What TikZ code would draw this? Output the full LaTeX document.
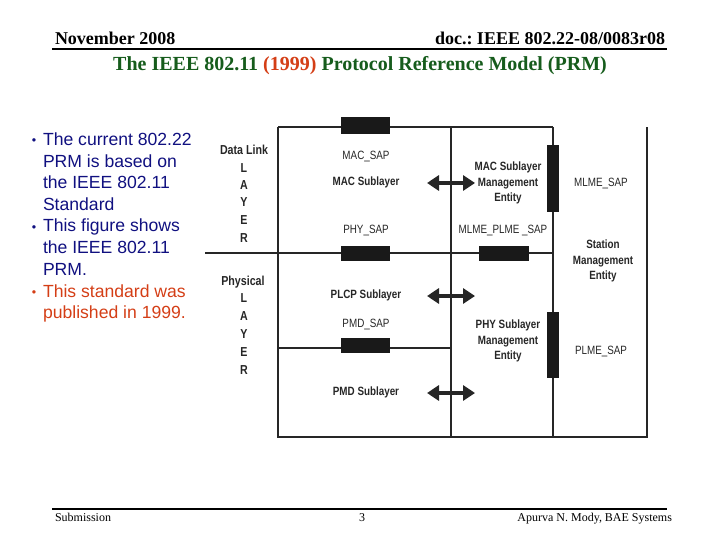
\documentclass[tikz,border=0pt]{standalone}
\usepackage{fontspec}
\setmainfont{Liberation Serif}
\newfontfamily\arialfont{Liberation Sans}
\newfontfamily\narrowfont{Liberation Sans}[FakeStretch=0.82]
\usetikzlibrary{arrows.meta, positioning}
\frenchspacing

\definecolor{titlegreen}{RGB}{22,92,28}
\definecolor{accentred}{RGB}{212,62,22}
\definecolor{bulletblue}{RGB}{16,16,128}
\definecolor{labelgray}{RGB}{38,38,38}

\begin{document}
\begin{tikzpicture}[
  x=1pt, y=-1pt,
  every node/.style={inner sep=0pt, outer sep=0pt},
  hdr/.style={font=\fontsize{18}{18}\selectfont\bfseries, anchor=base},
  foot/.style={font=\fontsize{12}{12}\selectfont, anchor=base},
  bullettxt/.style={font=\arialfont\fontsize{17.6}{17.6}\selectfont, anchor=base west, text=bulletblue},
  dot/.style={font=\arialfont\fontsize{12.5}{12.5}\selectfont, anchor=base, text=bulletblue},
  lbl/.style={font=\narrowfont\fontsize{12}{13}\selectfont, text=labelgray, align=center},
  blbl/.style={lbl, font=\narrowfont\bfseries\fontsize{12}{15.5}\selectfont},
  layer/.style={font=\narrowfont\bfseries\fontsize{13}{13}\selectfont, text=labelgray, anchor=base},
  sapbox/.style={fill=black!90, draw=none},
  frame/.style={line width=1.2pt, black!85},
  biarrow/.style={{Triangle[length=12pt,width=15pt]}-{Triangle[length=12pt,width=15pt]}, line width=3.6pt, black!85}
]
\useasboundingbox (0,0) rectangle (720,540);

% Header and footer
\node[hdr, anchor=base west] (month) at (55,45) {November 2008};
\node[hdr, anchor=base east] (docnr) at (665,45) {doc.: IEEE 802.22-08/0083r08};
\draw[line width=2.2pt] (52,49) -- (667,49);
\node[font=\fontsize{20}{20}\selectfont\bfseries, anchor=base, text=titlegreen] (title) at (360,71)
  {The IEEE 802.11 \textcolor{accentred}{(1999)} Protocol Reference Model (PRM)};
\draw[line width=2pt] (52,509) -- (667,509);
\node[foot, anchor=base west] (subm) at (55,521) {Submission};
\node[foot] (page) at (362,521) {3};
\node[foot, anchor=base east] (author) at (672,521) {Apurva N. Mody, BAE Systems};

% Bullets
\node[dot] (dot1) at (34,145) {•};
\node[dot] (dot2) at (34,231) {•};
\node[dot, text=accentred] (dot3) at (34,296) {•};
\foreach \i/\y/\t in {1/146/The current 802.22, 2/167.5/PRM is based on, 3/189/the IEEE 802.11,
    4/210.5/Standard, 5/232/This figure shows, 6/253.5/the IEEE 802.11, 7/275/PRM.}
  \node[bullettxt] (line\i) at (43,\y) {\t};
\node[bullettxt, text=accentred] (line8) at (43,297) {This standard was};
\node[bullettxt, text=accentred] (line9) at (43,318.5) {published in 1999.};

% Frame of the model
\draw[frame] (278,127) -- (553,127);
\draw[frame] (278,127) -- (278,437) -- (647,437) -- (647,127);
\draw[frame] (451,127) -- (451,437);
\draw[frame] (553,127) -- (553,437);
\draw[frame] (205,253) -- (553,253);
\draw[frame] (278,348) -- (451,348);

% Service access points
\node[sapbox, minimum width=49pt, minimum height=17pt] (macsap) at (365.5,125.5) {};
\node[sapbox, minimum width=49pt, minimum height=15pt] (physap) at (365.5,253.5) {};
\node[sapbox, minimum width=49pt, minimum height=15pt] (pmdsap) at (365.5,345.5) {};
\node[sapbox, minimum width=50pt, minimum height=15pt] (mlmeplmesap) at (504,253.5) {};
\node[sapbox, minimum width=12pt, minimum height=67pt] (mlmesap) at (553,178.5) {};
\node[sapbox, minimum width=12pt, minimum height=66pt] (plmesap) at (553,345) {};

% Layer names
\node[layer] (dlink) at (244,155) {Data Link};
\foreach \y/\c in {173/L, 190/A, 207/Y, 225/E, 242/R}
  \node[layer] (dl\c) at (244,\y) {\c};
\node[layer] (phys) at (243,285) {Physical};
\foreach \y/\c in {302/L, 320/A, 338/Y, 356/E, 374/R}
  \node[layer] (ph\c) at (244,\y) {\c};

% Labels in the boxes
\node[lbl] (maclbl) at (366,157) {MAC\_SAP};
\node[blbl] (macsub) at (366,182) {MAC Sublayer};
\node[lbl] (phylbl) at (366,231) {PHY\_SAP};
\node[blbl] (plcpsub) at (366,295) {PLCP Sublayer};
\node[lbl] (pmdlbl) at (366,325) {PMD\_SAP};
\node[blbl] (pmdsub) at (366,392) {PMD Sublayer};
\node[blbl] (macme) at (508,183) {MAC Sublayer\\Management\\Entity};
\node[lbl] (mplbl) at (503,231) {MLME\_PLME \_SAP};
\node[blbl] (phyme) at (508,341) {PHY Sublayer\\Management\\Entity};
\node[lbl] (mlmelbl) at (601,184) {MLME\_SAP};
\node[blbl] (stame) at (603,261) {Station\\Management\\Entity};
\node[lbl] (plmelbl) at (601,352) {PLME\_SAP};

% Arrows between sublayers and management entities
\coordinate (a1l) at (427,183);
\coordinate (a1r) at (475,183);
\coordinate (a2l) at (427,296);
\coordinate (a2r) at (475,296);
\coordinate (a3l) at (427,393);
\coordinate (a3r) at (475,393);
\draw[biarrow] (a1l) -- (a1r);
\draw[biarrow] (a2l) -- (a2r);
\draw[biarrow] (a3l) -- (a3r);

\end{tikzpicture}
\end{document}
